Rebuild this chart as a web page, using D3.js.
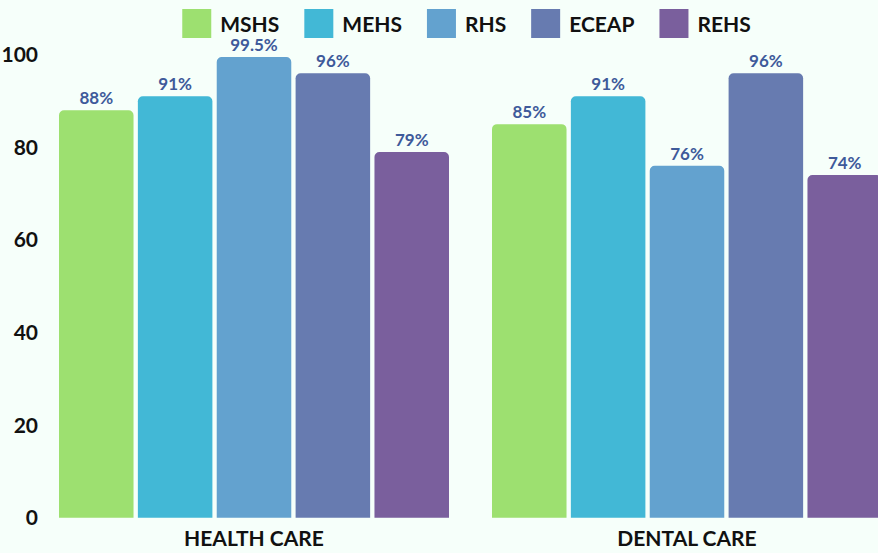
<!DOCTYPE html>
<html>
<head>
<meta charset="utf-8">
<script src="https://cdn.jsdelivr.net/npm/d3@7"></script>
<style>
  body { margin: 0; background: #f6fffa; }
  svg { display: block; }
  text { font-family: "Lato", "DejaVu Sans", sans-serif; font-weight: bold; }
</style>
</head>
<body>
<script>
const categories = ["HEALTH CARE", "DENTAL CARE"];
const series = ["MSHS", "MEHS", "RHS", "ECEAP", "REHS"];
const colors = ["#9de070", "#42b8d6", "#63a2cf", "#677bb0", "#7a5f9d"];
const healthCare = [88, 91, 99.5, 96, 79];
const dentalCare = [85, 91, 76, 96, 74];
const valueLabels = [["88%", "91%", "99.5%", "96%", "79%"], ["85%", "91%", "76%", "96%", "74%"]];
const yTicks = [0, 20, 40, 60, 80, 100];

const w = 878, h = 553;
const allValues = [healthCare, dentalCare];

const svg = d3.select("body").append("svg")
  .attr("width", w)
  .attr("height", h);

svg.append("rect").attr("width", w).attr("height", h).attr("fill", "#f6fffa");

const y = d3.scaleLinear().domain([0, 100]).range([517.7, 54.7]);
const x0 = d3.scaleBand().domain(categories).range([59, 882]).paddingInner(0.0993);
const x1 = d3.scaleBand().domain(series).range([0, x0.bandwidth()]).paddingInner(0.055);
const color = d3.scaleOrdinal().domain(series).range(colors);

// y axis labels
svg.append("g").selectAll("text")
  .data(yTicks)
  .join("text")
  .attr("x", 38)
  .attr("y", d => y(d))
  .attr("dy", "0.36em")
  .attr("text-anchor", "end")
  .attr("font-size", 21)
  .attr("fill", "#111")
  .text(d => d);

// bar path with rounded top corners
const barPath = (x, yTop, bw, yBase, r) => {
  const p = d3.path();
  p.moveTo(x, yBase);
  p.lineTo(x, yTop + r);
  p.arcTo(x, yTop, x + r, yTop, r);
  p.lineTo(x + bw - r, yTop);
  p.arcTo(x + bw, yTop, x + bw, yTop + r, r);
  p.lineTo(x + bw, yBase);
  p.closePath();
  return p.toString();
};

const groups = svg.append("g").selectAll("g")
  .data(categories)
  .join("g")
  .attr("transform", d => `translate(${x0(d)},0)`);

groups.selectAll("path")
  .data((d, i) => series.map((s, j) => ({ s, v: allValues[i][j] })))
  .join("path")
  .attr("d", d => barPath(x1(d.s), y(d.v), x1.bandwidth(), y(0), 5))
  .attr("fill", d => color(d.s));

groups.selectAll("text.val")
  .data((d, i) => series.map((s, j) => ({ s, v: allValues[i][j], t: valueLabels[i][j] })))
  .join("text")
  .attr("class", "val")
  .attr("x", d => x1(d.s) + x1.bandwidth() / 2)
  .attr("y", d => y(d.v) - 6)
  .attr("text-anchor", "middle")
  .attr("font-size", 17)
  .attr("fill", "#3e5a9a")
  .text(d => d.t);

// category labels
svg.append("g").selectAll("text")
  .data(categories)
  .join("text")
  .attr("x", d => x0(d) + x0.bandwidth() / 2)
  .attr("y", 546)
  .attr("text-anchor", "middle")
  .attr("font-size", 21)
  .attr("fill", "#111")
  .text(d => d);

// legend
const legend = svg.append("g");
const items = legend.selectAll("g")
  .data(series)
  .join("g");
items.append("rect")
  .attr("y", 9)
  .attr("width", 29)
  .attr("height", 29)
  .attr("fill", d => color(d));
items.append("text")
  .attr("x", 38)
  .attr("y", 32)
  .attr("font-size", 21)
  .attr("fill", "#111")
  .text(d => d);

let xpos = 0;
items.each(function () {
  const g = d3.select(this);
  g.attr("transform", `translate(${xpos},0)`);
  xpos += 38 + g.select("text").node().getComputedTextLength() + 25;
});
const legendW = xpos - 25;
legend.attr("transform", `translate(${466.5 - legendW / 2},0)`);
</script>
</body>
</html>
